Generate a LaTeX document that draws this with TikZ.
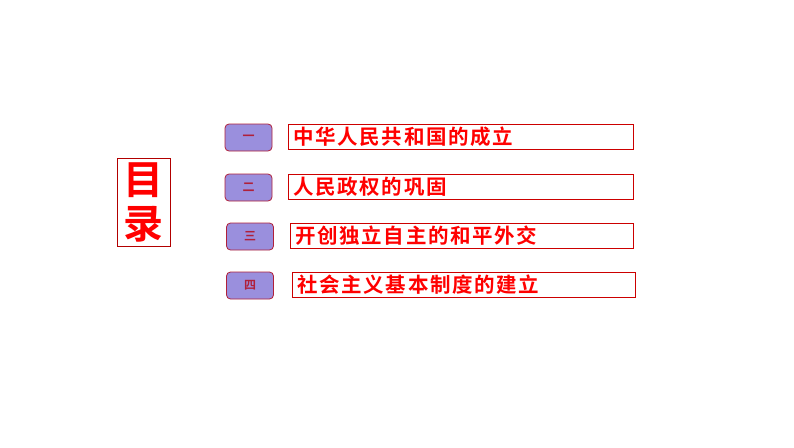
\documentclass[tikz,border=0pt]{standalone}
\usepackage{fontspec}
\newfontfamily\cjk{Noto Sans CJK SC Bold}
\newfontfamily\cjkb[LetterSpace=8]{Noto Sans CJK SC Bold}
\definecolor{pill}{HTML}{9A8FDD}
\definecolor{dred}{HTML}{B0203A}
\tikzset{
 pillbox/.style={draw=dred,line width=0.8pt,fill=pill,rounded corners=4pt,minimum width=47pt,minimum height=27pt,inner sep=0pt,font=\cjk\fontsize{12}{12}\selectfont,text=dred},
 itembox/.style={draw=red!80!black,line width=0.6pt,anchor=west,minimum height=25pt,inner sep=0pt,text=red,font=\cjkb\fontsize{20.5}{20.5}\selectfont,align=left,text width=#1,inner xsep=5pt}
}
\begin{document}
\begin{tikzpicture}[x=1pt,y=-1pt]
\useasboundingbox (0,0) rectangle (794,447);
\node[draw=red!70!black,line width=0.6pt,minimum width=53pt,minimum height=88pt,inner sep=0pt,text=red,font=\cjk\fontsize{40}{44}\selectfont,align=center] (ml) at (143.5,202) {目\\录};
\node[pillbox] (p1) at (248.5,137.5) {一};
\node[pillbox] (p2) at (248.5,187.5) {二};
\node[pillbox] (p3) at (250,236.5) {三};
\node[pillbox] (p4) at (250,285.5) {四};
\node[itembox=335pt] (t1) at (288,136.5) {中华人民共和国的成立};
\node[itembox=335pt] (t2) at (288,187) {人民政权的巩固};
\node[itembox=333pt] (t3) at (290,236) {开创独立自主的和平外交};
\node[itembox=333pt] (t4) at (292,285) {社会主义基本制度的建立};
\end{tikzpicture}
\end{document}
